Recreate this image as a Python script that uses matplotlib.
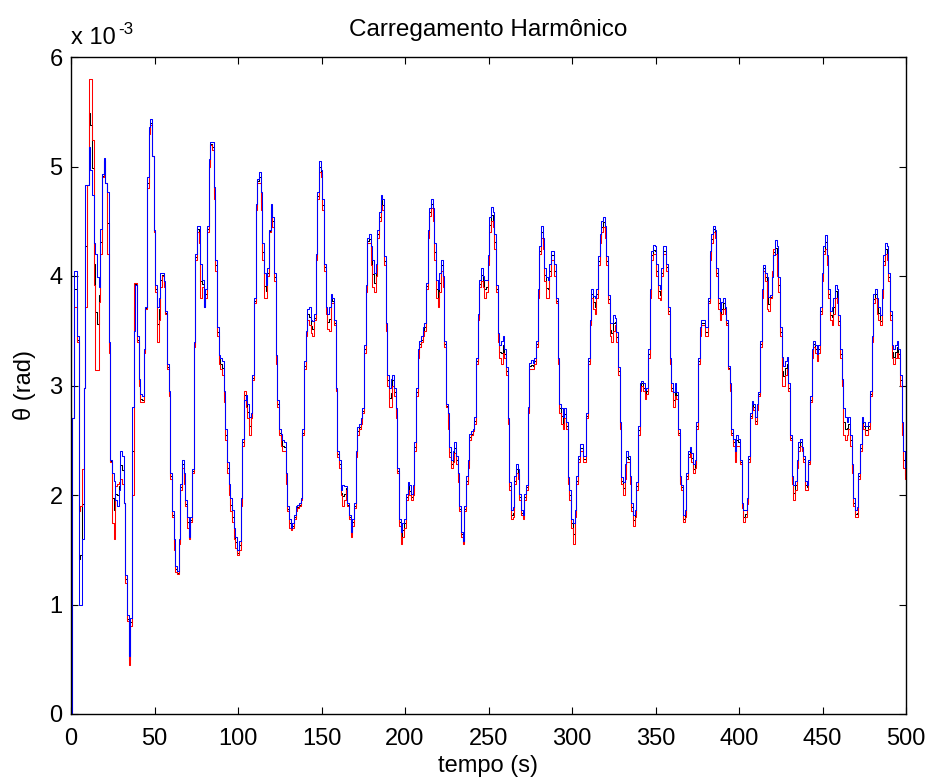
import numpy as np
import matplotlib
matplotlib.use("Agg")
import matplotlib.pyplot as plt

plt.rcParams['font.family'] = ['Liberation Sans', 'DejaVu Sans']

title = "Carregamento Harmônico"
xlabel = "tempo (s)"
ylabel = "θ (rad)"
xticks = [0, 50, 100, 150, 200, 250, 300, 350, 400, 450, 500]
yticks = [0, 1, 2, 3, 4, 5, 6]

# time in s (1 s sampling), values in units of 1e-3 rad
time = list(range(0, 501))

blue = [
 0.00, 2.70, 4.05, 4.05, 3.45, 1.00, 1.00, 1.60, 2.98, 4.83,
 4.83, 5.18, 4.97, 4.74, 4.30, 4.20, 3.99, 3.90, 4.43, 4.93,
 5.08, 4.85, 4.77, 3.40, 2.32, 2.20, 2.13, 1.95, 1.90, 2.05,
 2.40, 2.36, 1.93, 1.27, 0.90, 0.53, 0.88, 2.80, 3.50, 3.92,
 3.45, 3.06, 2.92, 2.90, 3.33, 3.72, 4.90, 5.36, 5.43, 5.10,
 4.42, 3.92, 3.72, 3.80, 4.03, 4.03, 3.95, 3.68, 3.20, 2.95,
 2.20, 1.85, 1.60, 1.35, 1.31, 1.60, 2.10, 2.32, 2.20, 1.95,
 1.80, 1.62, 1.80, 2.24, 3.40, 4.20, 4.46, 4.46, 4.11, 3.96,
 3.72, 3.88, 4.46, 5.07, 5.22, 5.22, 4.81, 4.15, 3.53, 3.28,
 3.25, 3.22, 2.95, 2.60, 2.30, 2.10, 1.97, 1.86, 1.70, 1.62,
 1.50, 1.58, 1.97, 2.51, 2.87, 2.91, 2.83, 2.71, 2.75, 3.10,
 3.80, 4.66, 4.89, 4.95, 4.77, 4.30, 4.03, 3.92, 4.07, 4.42,
 4.66, 4.54, 4.03, 3.28, 2.87, 2.60, 2.56, 2.50, 2.48, 2.20,
 1.90, 1.78, 1.70, 1.74, 1.82, 1.90, 1.91, 1.93, 1.97, 2.60,
 3.22, 3.50, 3.70, 3.72, 3.60, 3.59, 3.65, 4.20, 4.77, 5.05,
 4.97, 4.70, 4.11, 3.72, 3.65, 3.72, 3.84, 3.80, 3.60, 2.98,
 2.40, 2.32, 2.05, 2.09, 2.08, 2.08, 1.93, 1.82, 1.66, 1.78,
 1.93, 2.40, 2.62, 2.65, 2.70, 2.79, 3.37, 3.92, 4.35, 4.38,
 4.27, 4.15, 4.03, 4.11, 4.42, 4.58, 4.74, 4.70, 4.18, 3.57,
 3.10, 2.98, 3.06, 3.10, 2.98, 2.79, 2.25, 1.78, 1.66, 1.74,
 1.78, 2.01, 2.12, 2.09, 2.01, 2.09, 2.48, 2.98, 3.33, 3.41,
 3.45, 3.53, 3.57, 3.94, 4.42, 4.62, 4.70, 4.62, 4.30, 3.96,
 3.88, 4.03, 4.15, 4.00, 3.41, 2.83, 2.75, 2.44, 2.32, 2.40,
 2.48, 2.36, 2.20, 1.90, 1.66, 1.58, 1.90, 2.17, 2.32, 2.56,
 2.58, 2.60, 2.71, 3.25, 3.65, 3.96, 4.07, 4.00, 3.96, 3.96,
 4.19, 4.54, 4.63, 4.58, 4.38, 3.92, 3.48, 3.37, 3.41, 3.45,
 3.33, 3.17, 2.70, 2.12, 1.86, 1.89, 2.17, 2.28, 2.24, 2.01,
 1.86, 1.82, 2.01, 2.09, 2.80, 3.21, 3.23, 3.21, 3.25, 3.41,
 3.88, 4.27, 4.46, 4.35, 4.07, 3.99, 3.96, 4.11, 4.23, 4.23,
 4.11, 3.80, 3.25, 2.83, 2.79, 2.71, 2.79, 2.67, 2.16, 2.05,
 1.78, 1.74, 1.86, 2.17, 2.36, 2.47, 2.47, 2.36, 2.36, 2.75,
 3.25, 3.60, 3.88, 3.82, 3.80, 3.88, 4.18, 4.38, 4.50, 4.54,
 4.46, 4.18, 3.83, 3.57, 3.57, 3.64, 3.62, 3.49, 3.17, 2.67,
 2.16, 2.12, 2.28, 2.40, 2.36, 2.17, 1.93, 1.82, 1.86, 2.12,
 2.63, 3.02, 3.04, 3.02, 2.96, 2.98, 3.33, 3.88, 4.23, 4.28,
 4.27, 4.11, 3.92, 3.88, 4.07, 4.27, 4.27, 4.11, 3.72, 3.25,
 3.02, 2.94, 3.02, 2.94, 2.60, 2.17, 2.09, 1.82, 1.86, 2.20,
 2.40, 2.44, 2.38, 2.28, 2.32, 2.67, 3.25, 3.53, 3.60, 3.60,
 3.53, 3.53, 3.80, 4.23, 4.38, 4.46, 4.42, 4.07, 3.80, 3.68,
 3.76, 3.80, 3.72, 3.60, 3.18, 3.02, 2.60, 2.51, 2.40, 2.55,
 2.51, 2.32, 1.93, 1.86, 1.86, 1.97, 2.36, 2.75, 2.86, 2.83,
 2.71, 2.83, 2.94, 3.41, 3.88, 4.10, 4.03, 3.99, 3.81, 3.83,
 3.99, 4.19, 4.33, 4.27, 3.99, 3.53, 3.26, 3.18, 3.22, 3.26,
 3.02, 2.55, 2.17, 2.09, 2.13, 2.32, 2.48, 2.51, 2.44, 2.36,
 2.13, 2.09, 2.32, 2.90, 3.33, 3.41, 3.37, 3.29, 3.37, 3.72,
 4.03, 4.27, 4.37, 4.19, 3.88, 3.68, 3.72, 3.80, 3.92, 3.88,
 3.64, 3.33, 3.06, 2.79, 2.71, 2.67, 2.71, 2.55, 2.28, 1.97,
 1.86, 1.89, 2.20, 2.47, 2.71, 2.67, 2.63, 2.63, 2.67, 2.95,
 3.45, 3.84, 3.88, 3.80, 3.72, 3.64, 3.88, 4.19, 4.30, 4.27,
 4.03, 3.68, 3.37, 3.33, 3.37, 3.41, 3.33, 3.10, 2.67, 2.40,
 2.25]

red = [
 0.00, 2.70, 3.72, 3.72, 3.40, 1.85, 1.90, 2.24, 2.98, 3.72,
 4.83, 5.80, 5.80, 5.24, 3.92, 3.14, 3.14, 3.76, 4.20, 4.90,
 5.05, 4.85, 4.20, 3.30, 2.30, 1.74, 1.60, 2.08, 2.10, 2.12,
 2.15, 2.10, 1.93, 1.20, 0.85, 0.45, 0.80, 2.00, 3.94, 3.94,
 3.40, 3.00, 2.85, 2.85, 3.30, 3.70, 4.80, 5.30, 5.38, 5.10,
 4.40, 3.85, 3.40, 3.60, 3.90, 4.00, 3.90, 3.65, 3.15, 2.90,
 2.15, 1.80, 1.50, 1.30, 1.28, 1.55, 2.05, 2.25, 2.10, 1.90,
 1.70, 1.60, 1.75, 2.20, 3.35, 4.15, 4.40, 4.30, 3.80, 3.90,
 3.72, 3.80, 4.40, 5.00, 5.20, 5.15, 4.70, 4.05, 3.45, 3.20,
 3.15, 3.10, 2.85, 2.50, 2.20, 2.00, 1.85, 1.75, 1.60, 1.52,
 1.45, 1.50, 1.90, 2.45, 2.95, 2.80, 2.70, 2.55, 2.70, 3.05,
 3.75, 4.60, 4.85, 4.85, 4.60, 4.15, 3.80, 3.80, 4.00, 4.40,
 4.60, 4.45, 3.95, 3.20, 2.80, 2.55, 2.45, 2.40, 2.40, 2.10,
 1.85, 1.70, 1.68, 1.70, 1.78, 1.85, 1.88, 1.90, 1.95, 2.55,
 3.15, 3.45, 3.60, 3.55, 3.48, 3.45, 3.60, 4.15, 4.70, 4.95,
 4.90, 4.60, 4.05, 3.65, 3.52, 3.50, 3.75, 3.75, 3.55, 2.95,
 2.35, 2.25, 2.00, 1.90, 1.95, 2.05, 1.90, 1.78, 1.62, 1.72,
 1.88, 2.35, 2.55, 2.60, 2.65, 2.75, 3.30, 3.85, 4.30, 4.30,
 4.10, 3.90, 3.85, 4.00, 4.35, 4.50, 4.65, 4.60, 4.10, 3.50,
 3.00, 2.80, 2.80, 3.00, 2.90, 2.70, 2.20, 1.72, 1.55, 1.62,
 1.70, 1.95, 2.05, 2.00, 1.95, 2.00, 2.40, 2.90, 3.25, 3.35,
 3.40, 3.45, 3.50, 3.88, 4.35, 4.55, 4.62, 4.50, 4.15, 3.80,
 3.72, 3.85, 4.05, 3.90, 3.35, 2.80, 2.60, 2.35, 2.25, 2.30,
 2.38, 2.28, 2.12, 1.85, 1.62, 1.55, 1.85, 2.10, 2.25, 2.50,
 2.55, 2.58, 2.65, 3.20, 3.60, 3.90, 3.95, 3.90, 3.80, 3.85,
 4.10, 4.40, 4.50, 4.45, 4.25, 3.85, 3.40, 3.25, 3.20, 3.30,
 3.25, 3.10, 2.65, 2.05, 1.78, 1.80, 2.10, 2.20, 2.15, 1.95,
 1.82, 1.78, 1.95, 2.05, 2.75, 3.15, 3.15, 3.15, 3.20, 3.35,
 3.80, 4.20, 4.35, 4.25, 3.95, 3.80, 3.80, 4.00, 4.15, 4.15,
 4.00, 3.75, 3.20, 2.75, 2.65, 2.60, 2.70, 2.60, 2.10, 1.95,
 1.70, 1.55, 1.80, 2.10, 2.30, 2.40, 2.40, 2.30, 2.30, 2.70,
 3.20, 3.55, 3.80, 3.70, 3.65, 3.80, 4.10, 4.30, 4.40, 4.45,
 4.35, 4.10, 3.75, 3.45, 3.40, 3.50, 3.55, 3.40, 3.10, 2.60,
 2.10, 2.00, 2.15, 2.30, 2.30, 2.10, 1.85, 1.72, 1.80, 2.05,
 2.55, 2.95, 3.00, 2.95, 2.88, 2.92, 3.25, 3.80, 4.15, 4.20,
 4.20, 4.00, 3.80, 3.78, 4.00, 4.20, 4.20, 4.05, 3.65, 3.20,
 2.95, 2.80, 2.90, 2.88, 2.55, 2.10, 2.05, 1.75, 1.80, 2.15,
 2.35, 2.38, 2.30, 2.20, 2.25, 2.60, 3.20, 3.45, 3.55, 3.55,
 3.45, 3.45, 3.75, 4.15, 4.30, 4.40, 4.35, 4.00, 3.70, 3.60,
 3.65, 3.70, 3.65, 3.55, 3.15, 2.95, 2.55, 2.45, 2.30, 2.45,
 2.45, 2.28, 1.88, 1.75, 1.80, 1.92, 2.30, 2.70, 2.80, 2.78,
 2.65, 2.78, 2.90, 3.35, 3.80, 4.05, 3.95, 3.70, 3.68, 3.80,
 4.05, 4.25, 4.20, 4.00, 3.85, 3.45, 3.00, 3.00, 3.10, 3.15,
 2.95, 2.50, 2.10, 1.95, 2.05, 2.25, 2.40, 2.45, 2.40, 2.30,
 2.05, 2.05, 2.28, 2.85, 3.25, 3.35, 3.30, 3.22, 3.30, 3.65,
 3.95, 4.20, 4.25, 4.10, 3.80, 3.60, 3.55, 3.65, 3.80, 3.75,
 3.55, 3.25, 3.00, 2.55, 2.50, 2.55, 2.60, 2.45, 2.20, 1.90,
 1.80, 1.80, 2.15, 2.40, 2.65, 2.60, 2.55, 2.55, 2.60, 2.90,
 3.40, 3.75, 3.80, 3.65, 3.60, 3.55, 3.80, 4.10, 4.20, 4.15,
 3.95, 3.60, 3.25, 3.20, 3.25, 3.30, 3.25, 3.00, 2.55, 2.25,
 2.15]

black = [
 0.00, 2.70, 3.88, 3.88, 3.42, 1.42, 1.45, 1.92, 2.98, 4.27,
 4.83, 5.49, 5.38, 4.99, 4.11, 3.67, 3.56, 3.83, 4.31, 4.91,
 5.06, 4.85, 4.48, 3.35, 2.31, 1.97, 1.86, 2.01, 2.00, 2.08,
 2.27, 2.23, 1.93, 1.23, 0.87, 0.49, 0.84, 2.40, 3.72, 3.93,
 3.42, 3.03, 2.88, 2.87, 3.31, 3.71, 4.85, 5.33, 5.40, 5.10,
 4.41, 3.88, 3.56, 3.70, 3.96, 4.01, 3.92, 3.66, 3.17, 2.92,
 2.17, 1.82, 1.55, 1.32, 1.29, 1.57, 2.07, 2.28, 2.15, 1.92,
 1.75, 1.61, 1.77, 2.22, 3.37, 4.17, 4.43, 4.38, 3.95, 3.93,
 3.72, 3.84, 4.43, 5.03, 5.21, 5.18, 4.75, 4.10, 3.49, 3.24,
 3.20, 3.16, 2.90, 2.55, 2.25, 2.05, 1.91, 1.80, 1.65, 1.57,
 1.47, 1.54, 1.93, 2.48, 2.91, 2.85, 2.76, 2.63, 2.72, 3.07,
 3.77, 4.63, 4.87, 4.90, 4.68, 4.22, 3.91, 3.86, 4.03, 4.41,
 4.63, 4.50, 3.99, 3.24, 2.83, 2.57, 2.50, 2.45, 2.44, 2.15,
 1.87, 1.74, 1.69, 1.72, 1.80, 1.87, 1.89, 1.91, 1.96, 2.57,
 3.18, 3.47, 3.65, 3.63, 3.54, 3.52, 3.62, 4.17, 4.73, 5.00,
 4.93, 4.65, 4.08, 3.68, 3.58, 3.61, 3.79, 3.77, 3.57, 2.96,
 2.37, 2.28, 2.02, 1.99, 2.01, 2.06, 1.91, 1.80, 1.64, 1.75,
 1.90, 2.37, 2.58, 2.62, 2.67, 2.77, 3.33, 3.88, 4.32, 4.34,
 4.18, 4.02, 3.94, 4.05, 4.38, 4.54, 4.69, 4.65, 4.14, 3.53,
 3.05, 2.89, 2.93, 3.05, 2.94, 2.74, 2.22, 1.75, 1.60, 1.68,
 1.74, 1.98, 2.08, 2.04, 1.98, 2.04, 2.44, 2.94, 3.29, 3.38,
 3.42, 3.49, 3.53, 3.91, 4.38, 4.58, 4.66, 4.56, 4.22, 3.88,
 3.80, 3.94, 4.10, 3.95, 3.38, 2.81, 2.67, 2.39, 2.28, 2.35,
 2.43, 2.32, 2.16, 1.87, 1.64, 1.56, 1.87, 2.13, 2.28, 2.53,
 2.56, 2.59, 2.68, 3.22, 3.62, 3.93, 4.01, 3.95, 3.88, 3.90,
 4.14, 4.47, 4.56, 4.51, 4.31, 3.88, 3.44, 3.31, 3.30, 3.37,
 3.29, 3.13, 2.67, 2.08, 1.82, 1.84, 2.13, 2.24, 2.19, 1.98,
 1.84, 1.80, 1.98, 2.07, 2.77, 3.18, 3.19, 3.18, 3.22, 3.38,
 3.84, 4.23, 4.40, 4.30, 4.01, 3.89, 3.88, 4.05, 4.19, 4.19,
 4.05, 3.77, 3.22, 2.79, 2.72, 2.65, 2.74, 2.63, 2.13, 2.00,
 1.74, 1.64, 1.83, 2.13, 2.33, 2.43, 2.43, 2.33, 2.33, 2.72,
 3.22, 3.57, 3.84, 3.76, 3.72, 3.84, 4.14, 4.34, 4.45, 4.49,
 4.40, 4.14, 3.79, 3.51, 3.48, 3.57, 3.58, 3.44, 3.13, 2.63,
 2.13, 2.06, 2.21, 2.35, 2.33, 2.13, 1.89, 1.77, 1.83, 2.08,
 2.59, 2.98, 3.02, 2.98, 2.92, 2.95, 3.29, 3.84, 4.19, 4.24,
 4.23, 4.05, 3.86, 3.83, 4.03, 4.23, 4.23, 4.08, 3.68, 3.22,
 2.98, 2.87, 2.96, 2.91, 2.57, 2.13, 2.07, 1.78, 1.83, 2.17,
 2.37, 2.41, 2.34, 2.24, 2.28, 2.63, 3.22, 3.49, 3.57, 3.57,
 3.49, 3.49, 3.77, 4.19, 4.34, 4.43, 4.38, 4.03, 3.75, 3.64,
 3.70, 3.75, 3.68, 3.57, 3.16, 2.98, 2.57, 2.48, 2.35, 2.50,
 2.48, 2.30, 1.90, 1.80, 1.83, 1.94, 2.33, 2.72, 2.83, 2.80,
 2.68, 2.80, 2.92, 3.38, 3.84, 4.07, 3.99, 3.84, 3.74, 3.81,
 4.02, 4.22, 4.26, 4.13, 3.92, 3.49, 3.13, 3.09, 3.16, 3.20,
 2.98, 2.52, 2.13, 2.02, 2.09, 2.28, 2.44, 2.48, 2.42, 2.33,
 2.09, 2.07, 2.30, 2.87, 3.29, 3.38, 3.33, 3.25, 3.33, 3.68,
 3.99, 4.23, 4.31, 4.14, 3.84, 3.64, 3.63, 3.72, 3.86, 3.81,
 3.59, 3.29, 3.03, 2.67, 2.60, 2.61, 2.65, 2.50, 2.24, 1.93,
 1.83, 1.84, 2.17, 2.43, 2.68, 2.63, 2.59, 2.59, 2.63, 2.92,
 3.42, 3.79, 3.84, 3.72, 3.66, 3.59, 3.84, 4.14, 4.25, 4.21,
 3.99, 3.64, 3.31, 3.26, 3.31, 3.35, 3.29, 3.05, 2.61, 2.32,
 2.18]

W, H = 930, 783
fig = plt.figure(figsize=(W / 100, H / 100), dpi=100)
ax = fig.add_axes([71 / W, 69 / H, 835 / W, 657 / H])

lw = 0.75
ax.plot(time, black, color='#000000', lw=lw, drawstyle='steps-mid')
ax.plot(time, red, color='#ff0000', lw=lw, drawstyle='steps-mid')
ax.plot(time, blue, color='#0000ff', lw=lw, drawstyle='steps-mid')

ax.set_xlim(0, 500)
ax.set_ylim(0, 6)
ax.set_xticks(xticks)
ax.set_yticks(yticks)
ax.set_xticklabels([str(v) for v in xticks])
ax.set_yticklabels([str(v) for v in yticks])

fs = 17
ax.tick_params(direction='in', length=5, width=0.8, top=True, right=True,
               labelsize=fs, pad=6)
ax.tick_params(axis='x', pad=10)
for s in ax.spines.values():
    s.set_linewidth(1.0)

ax.set_title(title, fontsize=17.5, pad=15)
ax.set_xlabel(xlabel, fontsize=fs, labelpad=4)
ax.set_ylabel(ylabel, fontsize=fs, labelpad=10)

ax.text(0.0, 1.012, "x 10", transform=ax.transAxes, fontsize=fs,
        ha='left', va='bottom')
ax.text(0.057, 1.030, "-3", transform=ax.transAxes, fontsize=fs * 0.72,
        ha='left', va='bottom')

fig.savefig("out.png", dpi=100)
